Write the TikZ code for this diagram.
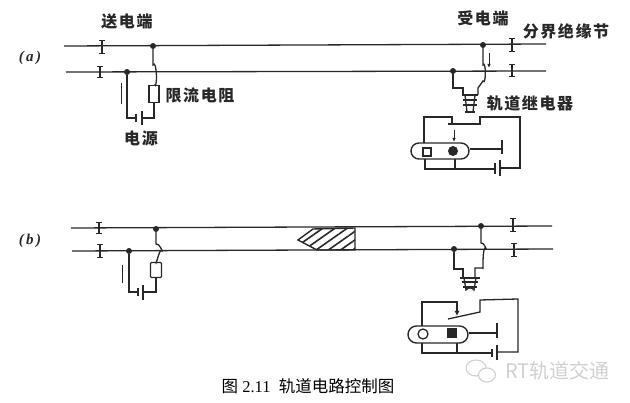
\documentclass[tikz,border=0pt]{standalone}
\usepackage{fontspec}
\setmainfont{Liberation Serif}
\newfontfamily\cjk{Noto Sans CJK SC}
\newfontfamily\cjkl[LetterSpace=10]{Noto Sans CJK SC}
\usetikzlibrary{arrows.meta}
\usetikzlibrary{patterns.meta}
\usetikzlibrary{shapes.misc}
\definecolor{strich}{RGB}{40,40,40}
\definecolor{marke}{RGB}{208,208,208}
\tikzset{
	rail/.style={draw=strich,line width=1.3pt},
	wire/.style={draw=strich,line width=1.3pt},
	iso/.style={draw=strich,line width=1.2pt,{Bar[width=5.5pt]}-{Bar[width=5.5pt]}},
	pkt/.style={circle,fill=strich,draw=none,inner sep=0pt,minimum size=6pt},
	res/.style={rectangle,draw=strich,line width=1.4pt,fill=white,inner sep=0pt,minimum width=10pt,minimum height=17pt},
	lamp/.style={rounded rectangle,draw=strich,line width=1.4pt,inner sep=0pt,minimum width=58pt,minimum height=16pt},
	lbl/.style={font=\cjkl\bfseries\fontsize{16}{18}\selectfont,text=strich,inner sep=0pt},
	tag/.style={inner sep=0pt,text=strich,font=\itshape\bfseries\fontsize{15}{16}\selectfont},
}
\begin{document}
\begin{tikzpicture}[x=1pt,y=-1pt]
	\useasboundingbox (0,0) rectangle (630,403);
	\node[tag] (La) at (30,58) {(\,a\,)};
	\node[tag] (Lb) at (30,241) {(\,b\,)};
	% (a) rails
	\coordinate (R1a) at (64,46);
	\coordinate (R1e) at (546,44);
	\coordinate (R2a) at (66,72);
	\coordinate (R2e) at (546,71);
	\draw[rail] (R1a) -- (R1e);
	\draw[rail] (R2a) -- (R2e);
	\coordinate (I1o) at (102,40);
	\coordinate (I1u) at (102,54);
	\coordinate (I2o) at (100,66);
	\coordinate (I2u) at (100,78);
	\coordinate (I3o) at (512,38);
	\coordinate (I3u) at (512,52);
	\coordinate (I4o) at (512,64);
	\coordinate (I4u) at (512,77);
	\draw[iso] (I1o) -- (I1u);
	\draw[iso] (I2o) -- (I2u);
	\draw[iso] (I3o) -- (I3u);
	\draw[iso] (I4o) -- (I4u);
	% (a) sending end
	\node[pkt] (P1) at (153,46) {};
	\node[pkt] (P2) at (127,72) {};
	\node[res] (W1) at (154,94) {};
	\coordinate (B1) at (153,65);
	\coordinate (U1) at (154,118);
	\coordinate (U2) at (127,118);
	\coordinate (E1) at (142,118);
	\coordinate (E2) at (136,118);
	\coordinate (S1o) at (121,83);
	\coordinate (S1u) at (121,104);
	\draw[wire] (P1) -- (B1) to[out=60,in=-60] (W1.north);
	\draw[wire] (W1.south) -- (U1) -- (E1);
	\draw[wire] (P2) -- (U2) -- (E2);
	\draw[wire] (142,111) -- (142,125);
	\draw[wire] (136,114) -- (136,122);
	\draw[wire,line width=1pt] (S1o) -- (S1u);
	% (a) receiving end
	\node[pkt] (P3) at (483,45) {};
	\node[pkt] (P4) at (453,71) {};
	\coordinate (B2) at (483,65);
	\coordinate (K1) at (478,88);
	\coordinate (K2) at (478,95);
	\coordinate (K3) at (453,88);
	\coordinate (K4) at (463,88);
	\coordinate (K5) at (463,95);
	\coordinate (S2o) at (489,53);
	\coordinate (S2u) at (489,68);
	\draw[wire] (P3) -- (B2) to[out=60,in=-60] (483,81) -- (K1) -- (K2);
	\draw[wire] (P4) -- (K3) -- (K4) -- (K5);
	\draw[wire,line width=1pt,-{Latex[length=4pt,width=3.5pt]}] (S2o) -- (S2u);
	% (a) relay
	\draw[wire] (462,95) -- (478,95);
	\draw[wire] (463,100) -- (477,100);
	\draw[wire] (463,105) -- (477,105);
	\draw[wire] (465,112) -- (475,112);
	\draw[wire] (465,95) -- (467,112);
	\draw[wire] (475,95) -- (473,112);
	% (a) signal
	\node[lamp] (Sa) at (440,151) {};
	\node[rectangle,draw=strich,line width=1.3pt,inner sep=0pt,minimum size=8pt] (Qa) at (427,152) {};
	\node[circle,fill=strich,inner sep=0pt,minimum size=10pt] (Ca) at (453,151) {};
	\coordinate (T1) at (424,117);
	\coordinate (T2) at (452,117);
	\coordinate (T3) at (452,124);
	\coordinate (T4) at (448,124);
	\coordinate (T5) at (480,124);
	\coordinate (T6) at (480,117);
	\coordinate (T7) at (520,117);
	\coordinate (T8) at (520,168);
	\coordinate (T9) at (500,168);
	\coordinate (T10) at (495,169);
	\coordinate (T11) at (425,169);
	\coordinate (T12) at (455,169);
	\draw[wire] (424,143) -- (T1) -- (T2) -- (T3);
	\draw[wire] (T4) -- (T5) -- (T6) -- (T7) -- (T8) -- (T9);
	\draw[wire] (T10) -- (T11) -- (425,159);
	\draw[wire] (T12) -- (455,159);
	\draw[wire] (495,163) -- (495,174);
	\draw[wire] (500,160) -- (500,176);
	\draw[wire,line width=1pt,-{Latex[length=4pt,width=3.5pt]}] (454,130) -- (454,142);
	\draw[wire] (Sa.east |- 0,149) -- (502,149);
	\draw[wire] (502,140) -- (502,154);
	% (b) rails
	\coordinate (R3a) at (71,228);
	\coordinate (R3e) at (552,226);
	\coordinate (R4a) at (72,251);
	\coordinate (R4e) at (553,249);
	\draw[rail] (R3a) -- (R3e);
	\draw[rail] (R4a) -- (R4e);
	\coordinate (I5o) at (99,222);
	\coordinate (I5u) at (99,234);
	\coordinate (I6o) at (100,244);
	\coordinate (I6u) at (100,258);
	\coordinate (I7o) at (513,218);
	\coordinate (I7u) at (513,232);
	\coordinate (I8o) at (514,243);
	\coordinate (I8u) at (514,257);
	\draw[iso] (I5o) -- (I5u);
	\draw[iso] (I6o) -- (I6u);
	\draw[iso] (I7o) -- (I7u);
	\draw[iso] (I8o) -- (I8u);
	% (b) train
	\draw[draw=strich,line width=1.4pt,pattern={Lines[angle=35,distance=7pt,line width=1.6pt]},pattern color=strich] (298,240) -- (313,229) -- (355,228) -- (355,250) -- (317,250) -- cycle;
	% (b) sending end
	\node[pkt] (P5) at (156,229) {};
	\node[pkt] (P6) at (129,251) {};
	\node[res,minimum height=15pt,minimum width=11pt,rounded corners=1pt] (W2) at (156,270) {};
	\coordinate (B3) at (156,244);
	\coordinate (U3) at (156,292);
	\coordinate (U4) at (129,292);
	\coordinate (E3) at (143,292);
	\coordinate (E4) at (138,292);
	\coordinate (S3o) at (122,265);
	\coordinate (S3u) at (122,283);
	\draw[wire] (P5) -- (B3) to[out=30,in=-60] (162,251) to[out=120,in=-90] (W2.north);
	\draw[wire] (W2.south) -- (U3) -- (E3);
	\draw[wire] (P6) -- (U4) -- (E4);
	\draw[wire] (143,285) -- (143,300);
	\draw[wire] (138,288) -- (138,296);
	\draw[wire,line width=1pt] (S3o) -- (S3u);
	% (b) receiving end
	\node[pkt] (P7) at (481,226) {};
	\node[pkt] (P8) at (454,249) {};
	\coordinate (B4) at (481,243);
	\coordinate (K6) at (483,268);
	\coordinate (K7) at (475,268);
	\coordinate (K8) at (475,277);
	\coordinate (K9) at (454,269);
	\coordinate (K10) at (463,269);
	\coordinate (K11) at (463,277);
	\draw[wire] (P7) -- (B4) to[out=30,in=-60] (486,249) to[out=120,in=-90] (K6) -- (K7) -- (K8);
	\draw[wire] (P8) -- (K9) -- (K10) -- (K11);
	% (b) relay
	\draw[wire] (460,278) -- (480,278);
	\draw[wire] (462,282) -- (478,282);
	\draw[wire] (463,287) -- (477,287);
	\draw[wire] (464,278) -- (466,290) to[out=60,in=120] (474,290) -- (476,278);
	% (b) signal
	\node[lamp,minimum width=60pt,minimum height=17pt] (Sb) at (438,334.5) {};
	\node[circle,draw=strich,line width=1.3pt,inner sep=0pt,minimum size=10pt] (Cb) at (423,334) {};
	\node[rectangle,fill=strich,inner sep=0pt,minimum size=10pt] (Qb) at (452,333) {};
	\coordinate (T13) at (422,302);
	\coordinate (T14) at (457,302);
	\coordinate (T15) at (457,316);
	\coordinate (T16) at (448,319);
	\coordinate (T17) at (480,312);
	\coordinate (T18) at (480,300);
	\coordinate (T19) at (518,299);
	\coordinate (T20) at (518,352);
	\coordinate (T21) at (497,352);
	\coordinate (T22) at (492,353);
	\coordinate (T23) at (422,353);
	\coordinate (T24) at (457,353);
	\draw[wire,-{Latex[length=5pt,width=5pt]}] (422,326) -- (T13) -- (T14) -- (T15);
	\draw[wire] (T16) -- (T17) -- (T18) -- (T19) -- (T20) -- (T21);
	\draw[wire] (T22) -- (T23) -- (422,343);
	\draw[wire] (T24) -- (457,343);
	\draw[wire] (492,349) -- (492,357);
	\draw[wire] (497,345) -- (497,360);
	\draw[wire] (Sb.east |- 0,333) -- (497,333);
	\draw[wire] (497,323) -- (497,338);
	% labels
	\node[lbl] (Tsend) at (127,22) {送电端};
	\node[lbl] (Tres) at (200,95) {限流电阻};
	\node[lbl] (Tsrc) at (141,138) {电源};
	\node[lbl] (Trecv) at (483,18) {受电端};
	\node[lbl] (Tiso) at (566,31) {分界绝缘节};
	\node[lbl] (Trel) at (530,103) {轨道继电器};
	\node[inner sep=0pt,text=black,font=\fontsize{16.5}{18}\selectfont] (Cap) at (308,386) {{\cjk 图} 2.11\ \ {\cjk 轨道电路控制图}};
	% watermark
	\node[inner sep=0pt,text=marke,font=\cjk\fontsize{20}{22}\selectfont] (Wm) at (557.5,371) {RT轨道交通};
	\draw[marke,line width=1.1pt,fill=white] (476,368) ellipse (10pt and 8pt);
	\draw[marke,line width=1.1pt,fill=white] (487,375) ellipse (8.5pt and 7pt);
\end{tikzpicture}
\end{document}
